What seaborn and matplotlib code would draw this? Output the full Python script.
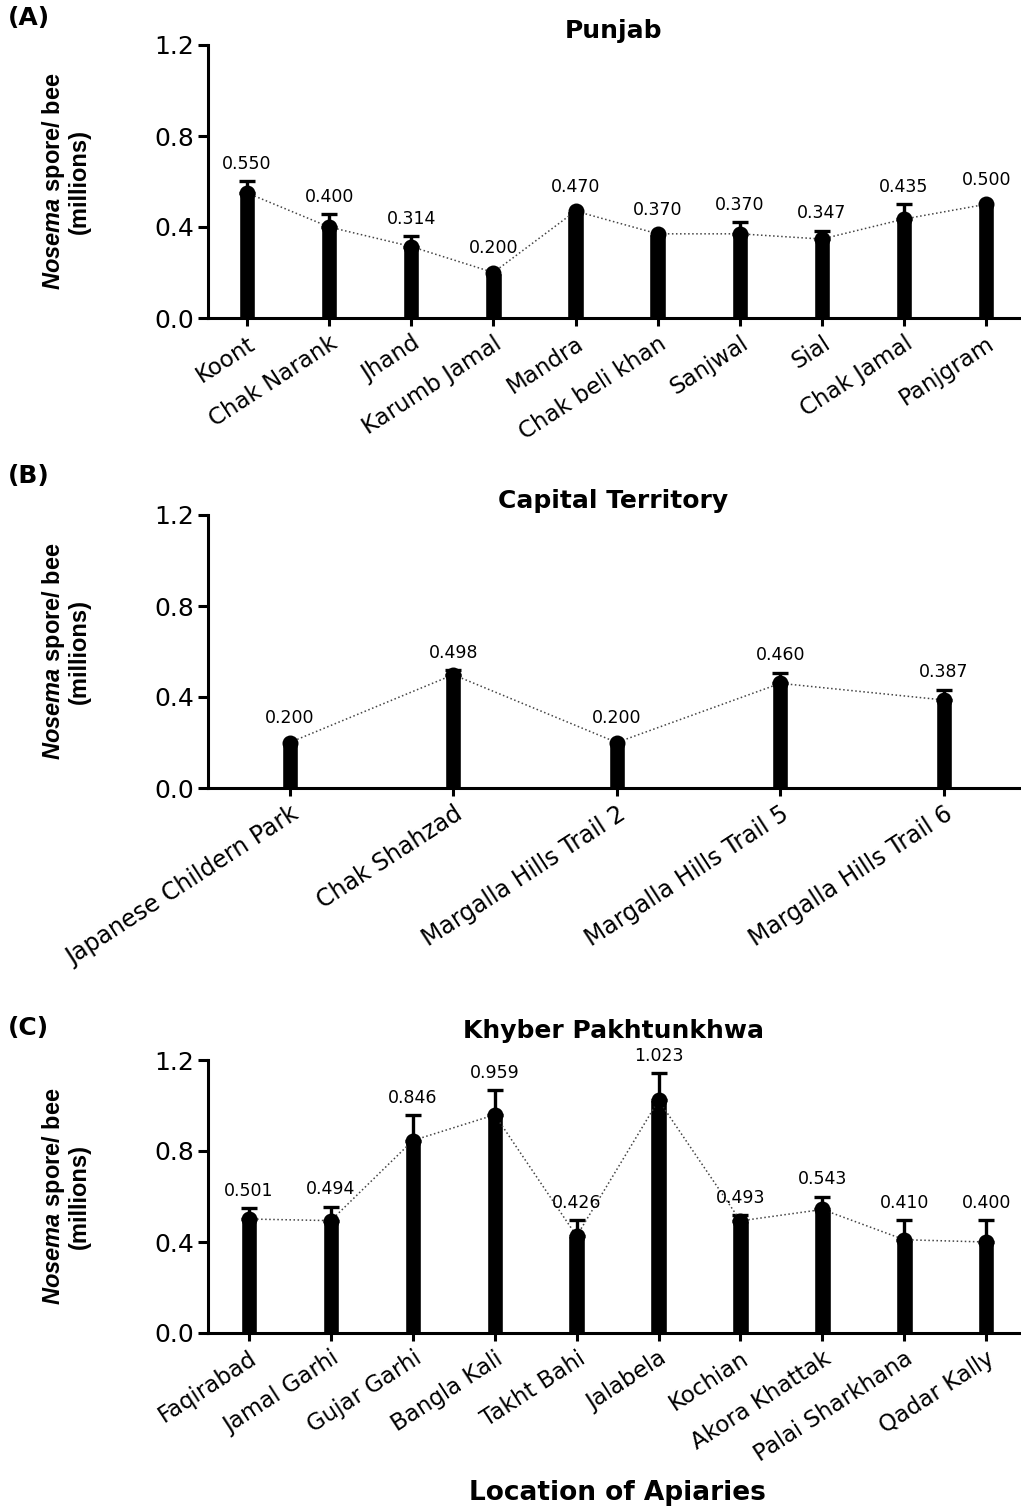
import numpy as np
import pandas as pd
import matplotlib
matplotlib.use('Agg')
import matplotlib.pyplot as plt
import seaborn as sns

sns.set_style("ticks")
plt.rcParams['font.family'] = ['DejaVu Sans']
plt.rcParams['text.color'] = 'black'
plt.rcParams['axes.labelcolor'] = 'black'
plt.rcParams['axes.edgecolor'] = 'black'
plt.rcParams['xtick.color'] = 'black'
plt.rcParams['ytick.color'] = 'black'
plt.rcParams['mathtext.fontset'] = 'custom'
plt.rcParams['mathtext.it'] = 'Liberation Sans:italic:bold'
plt.rcParams['mathtext.rm'] = 'Liberation Sans:bold'

# ============================================
# DATA
# ============================================
punjab_sites = ['Koont', 'Chak Narank', 'Jhand', 'Karumb Jamal', 'Mandra',
                'Chak beli khan', 'Sanjwal', 'Sial', 'Chak Jamal', 'Panjgram']
punjab_mean = [0.550, 0.400, 0.314, 0.200, 0.470, 0.370, 0.370, 0.347, 0.435, 0.500]
punjab_err = [0.050, 0.057, 0.046, 0.0, 0.0, 0.0, 0.050, 0.037, 0.066, 0.0]

capital_sites = ['Japanese Childern Park', 'Chak Shahzad', 'Margalla Hills Trail 2',
                 'Margalla Hills Trail 5', 'Margalla Hills Trail 6']
capital_mean = [0.200, 0.498, 0.200, 0.460, 0.387]
capital_err = [0.0, 0.02, 0.0, 0.047, 0.045]

kp_sites = ['Faqirabad', 'Jamal Garhi', 'Gujar Garhi', 'Bangla Kali', 'Takht Bahi',
            'Jalabela', 'Kochian', 'Akora Khattak', 'Palai Sharkhana', 'Qadar Kally']
kp_mean = [0.501, 0.494, 0.846, 0.959, 0.426, 1.023, 0.493, 0.543, 0.410, 0.400]
kp_err = [0.048, 0.061, 0.112, 0.109, 0.071, 0.118, 0.026, 0.056, 0.087, 0.097]

yticks = [0.0, 0.4, 0.8, 1.2]

W, H = 1021, 1507
fig = plt.figure(figsize=(W / 100, H / 100), dpi=100)


def draw_panel(ax, sites, means, errs, title, bar_w, xlim, title_pad, tick_fs):
    df = pd.DataFrame({'site': sites, 'mean': means, 'err': errs})
    sns.barplot(data=df, x='site', y='mean', color='black', width=bar_w,
                saturation=1, errorbar=None, ax=ax, zorder=2)
    # upper error bars only
    has_err = df[df['err'] > 0]
    ax.errorbar(has_err.index, has_err['mean'],
                yerr=[np.zeros(len(has_err)), has_err['err']],
                fmt='none', ecolor='black', elinewidth=2.4, capsize=6,
                capthick=2.4, zorder=3)
    # dotted connecting line
    sns.pointplot(data=df, x='site', y='mean', color='#444444', markers='',
                  linestyles=':', linewidth=1.1, errorbar=None, ax=ax, zorder=4)
    # round caps on top of bars
    sns.pointplot(data=df, x='site', y='mean', color='black', markers='o',
                  linestyles='none', markersize=11.5, markeredgewidth=0,
                  errorbar=None, ax=ax, zorder=5)

    for i, row in df.iterrows():
        off = 6 if row['err'] > 0 else 11
        ax.annotate(f"{row['mean']:.3f}", (i, row['mean'] + row['err']),
                    xytext=(0, off), textcoords='offset points',
                    ha='center', va='bottom', fontsize=12.5, zorder=6)

    ax.set_ylim(0, 1.2)
    ax.set_yticks(yticks)
    ax.set_yticklabels([f'{t:.1f}' for t in yticks], fontsize=18)
    ax.set_xlim(*xlim)
    ax.set_xticks(range(len(sites)))
    ax.set_xticklabels(sites, rotation=33, ha='right', rotation_mode='anchor',
                       fontsize=tick_fs)
    ax.set_xlabel('')
    ax.set_ylabel('$\\it{Nosema}$ spore/ bee\n(millions)', fontsize=17,
                  fontweight='bold', fontfamily='Liberation Sans', linespacing=1.0)
    ax.yaxis.set_label_coords(-0.145, 0.5)
    ax.set_title(title, fontsize=18, fontweight='bold', pad=title_pad)
    sns.despine(ax=ax)
    for s in ['left', 'bottom']:
        ax.spines[s].set_linewidth(2.2)
    ax.tick_params(axis='y', length=7, width=2.2, pad=3)
    ax.tick_params(axis='x', length=6, width=2.2, pad=4)
    ax.grid(False)


left = 208 / W
width = 811 / W
hgt = 273 / H

ax1 = fig.add_axes([left, 1 - 318 / H, width, hgt])
draw_panel(ax1, punjab_sites, punjab_mean, punjab_err, 'Punjab', 0.2,
           (-0.475, 9.4), 5, 16.5)

ax2 = fig.add_axes([left, 1 - 788 / H, width, hgt])
draw_panel(ax2, capital_sites, capital_mean, capital_err, 'Capital Territory', 0.1,
           (-0.5, 4.46), 5, 17)

ax3 = fig.add_axes([left, 1 - 1333 / H, width, hgt])
draw_panel(ax3, kp_sites, kp_mean, kp_err, 'Khyber Pakhtunkhwa', 0.2,
           (-0.5, 9.4), 16, 16.5)

# panel letters
for lbl, ypix in [('(A)', 18), ('(B)', 476), ('(C)', 1028)]:
    fig.text(8 / W, 1 - ypix / H, lbl, fontsize=18, fontweight='bold',
             ha='left', va='center')

fig.text(617 / W, 1 - 1493 / H, 'Location of Apiaries', fontsize=19,
         fontweight='bold', ha='center', va='center')

fig.savefig('out.png', dpi=100)
